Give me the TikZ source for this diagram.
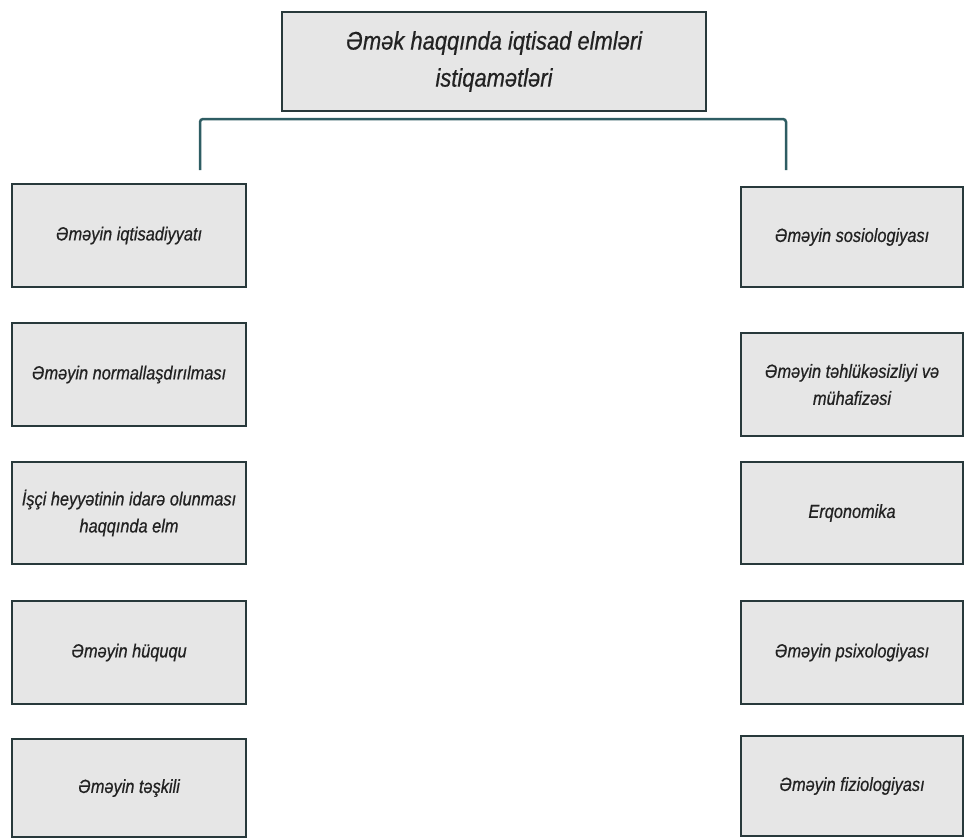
\documentclass[tikz,border=0pt]{standalone}
\usepackage{fontspec}
\setmainfont{Liberation Sans}
\newfontfamily\narrowsans[FakeStretch=0.86,FakeBold=0.6]{Liberation Sans}
\begin{document}
\begin{tikzpicture}[x=1pt,y=-1pt,
  boxfill/.style={fill=boxgray, draw=boxedge, line width=2.5pt, inner sep=2pt, outer sep=0pt, align=center,
    text=textgray, font=\narrowsans\itshape\fontsize{19}{27}\selectfont},
  leftbox/.style={boxfill, minimum width=234pt},
  rightbox/.style={boxfill, minimum width=222pt},
  bracket/.style={draw=linkteal, line width=2.5pt, rounded corners=3pt}
]
\definecolor{boxgray}{HTML}{E6E6E6}
\definecolor{boxedge}{HTML}{28393B}
\definecolor{textgray}{HTML}{222222}
\definecolor{linkteal}{HTML}{2E5D63}
\useasboundingbox (0,0) rectangle (965,838);
\fill[white] (0,0) rectangle (965,838);

% title box
\node[boxfill, minimum width=424pt, minimum height=99pt,
      font=\narrowsans\itshape\fontsize{25.5}{37}\selectfont] (title) at (494,61.5)
  {Əmək haqqında iqtisad elmləri\\istiqamətləri};

% left column
\node[leftbox, minimum height=103pt] (l1) at (129,235.5) {Əməyin iqtisadiyyatı};
\node[leftbox, minimum height=103pt] (l2) at (129,374.5) {Əməyin normallaşdırılması};
\node[leftbox, minimum height=102pt] (l3) at (129,513) {İşçi heyyətinin idarə olunması\\haqqında elm};
\node[leftbox, minimum height=103pt] (l4) at (129,652.5) {Əməyin hüququ};
\node[leftbox, minimum height=98pt] (l5) at (129,788) {Əməyin təşkili};

% right column
\node[rightbox, minimum height=100pt] (r1) at (852,237) {Əməyin sosiologiyası};
\node[rightbox, minimum height=103pt] (r2) at (852,384.5) {Əməyin təhlükəsizliyi və\\mühafizəsi};
\node[rightbox, minimum height=102pt] (r3) at (852,513) {Erqonomika};
\node[rightbox, minimum height=103pt] (r4) at (852,652.5) {Əməyin psixologiyası};
\node[rightbox, minimum height=100pt] (r5) at (852,786) {Əməyin fiziologiyası};

% bracket joining the two columns
\coordinate (bl) at (200,170);
\coordinate (tl) at (200,119);
\coordinate (tr) at (786,119);
\coordinate (br) at (786,170);
\draw[bracket] (bl) -- (tl) -- (tr) -- (br);
\end{tikzpicture}
\end{document}
